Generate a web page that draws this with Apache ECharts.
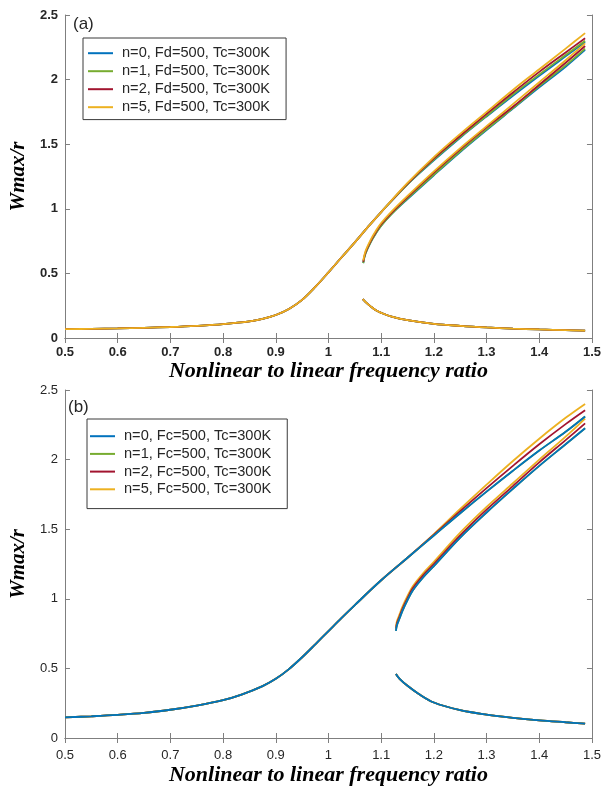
<!DOCTYPE html>
<html>
<head>
<meta charset="utf-8">
<script src="https://cdn.jsdelivr.net/npm/echarts@6/dist/echarts.min.js"></script>
<style>
  html, body { margin: 0; padding: 0; background: #ffffff; }
  #chart { width: 604px; height: 787px; }
</style>
</head>
<body>
<div id="chart"></div>
<script>
// ---- tick labels ----
const xTickLabels = ['0.5', '0.6', '0.7', '0.8', '0.9', '1', '1.1', '1.2', '1.3', '1.4', '1.5'];
const yTickLabels = ['0', '0.5', '1', '1.5', '2', '2.5'];

// ---- legend names ----
const namesA = ['n=0, Fd=500, Tc=300K', 'n=1, Fd=500, Tc=300K', 'n=2, Fd=500, Tc=300K', 'n=5, Fd=500, Tc=300K'];
const namesB = ['n=0, Fc=500, Tc=300K', 'n=1, Fc=500, Tc=300K', 'n=2, Fc=500, Tc=300K', 'n=5, Fc=500, Tc=300K'];
const colors = ['#0072BD', '#77AC30', '#A2142F', '#EDB120'];

// ================= panel (a) =================
// rising branch shared by all n (curves coincide here)
const aRiseF = [0.5, 0.55, 0.6, 0.65, 0.7, 0.75, 0.8, 0.85, 0.875, 0.9, 0.925, 0.95, 0.975, 1.0, 1.025, 1.05, 1.075, 1.1];
const aRiseW = [0.068, 0.071, 0.074, 0.079, 0.085, 0.094, 0.107, 0.128, 0.148, 0.178, 0.225, 0.295, 0.395, 0.508, 0.625, 0.74, 0.86, 0.975];
// upper branch, continued per n
const aUpperF = [1.15, 1.2, 1.25, 1.3, 1.35, 1.4, 1.45, 1.487];
const aUpperN0 = [1.19, 1.375, 1.55, 1.715, 1.875, 2.03, 2.18, 2.29];
const aUpperN1 = [1.19, 1.38, 1.555, 1.72, 1.885, 2.04, 2.19, 2.30];
const aUpperN2 = [1.195, 1.39, 1.565, 1.735, 1.90, 2.06, 2.21, 2.32];
const aUpperN5 = [1.20, 1.40, 1.58, 1.75, 1.92, 2.08, 2.24, 2.36];
// branch starting at the jump frequency
const aJumpF = [1.066, 1.07, 1.08, 1.09, 1.1, 1.12, 1.15, 1.2, 1.25, 1.3, 1.35, 1.4, 1.45, 1.487];
const aJumpN0 = [0.58, 0.65, 0.74, 0.81, 0.87, 0.96, 1.075, 1.26, 1.44, 1.61, 1.775, 1.94, 2.10, 2.23];
const aJumpN1 = [0.58, 0.65, 0.74, 0.81, 0.87, 0.96, 1.08, 1.265, 1.445, 1.615, 1.78, 1.95, 2.11, 2.24];
const aJumpN2 = [0.59, 0.66, 0.75, 0.82, 0.88, 0.97, 1.09, 1.28, 1.46, 1.63, 1.79, 1.96, 2.13, 2.26];
const aJumpN5 = [0.60, 0.67, 0.76, 0.83, 0.89, 0.98, 1.10, 1.29, 1.47, 1.64, 1.81, 1.98, 2.15, 2.28];
// low-amplitude branch after the jump (shared)
const aLowF = [1.065, 1.07, 1.08, 1.09, 1.1, 1.12, 1.15, 1.2, 1.25, 1.3, 1.35, 1.4, 1.45, 1.487];
const aLowW = [0.30, 0.28, 0.245, 0.215, 0.195, 0.165, 0.138, 0.11, 0.094, 0.082, 0.073, 0.066, 0.061, 0.057];

// ================= panel (b) =================
const bRiseF = [0.5, 0.55, 0.6, 0.65, 0.7, 0.75, 0.8, 0.835, 0.875, 0.9, 0.925, 0.95, 0.975, 1.0, 1.025, 1.05, 1.1, 1.15];
const bRiseW = [0.148, 0.156, 0.166, 0.18, 0.203, 0.233, 0.272, 0.312, 0.373, 0.425, 0.495, 0.58, 0.673, 0.768, 0.863, 0.955, 1.133, 1.295];
const bUpperF = [1.2, 1.25, 1.3, 1.35, 1.4, 1.45, 1.487];
// n=0 and n=1 coincide in this panel
const bUpperN0 = [1.455, 1.615, 1.77, 1.92, 2.065, 2.20, 2.31];
const bUpperN1 = [1.455, 1.615, 1.77, 1.92, 2.065, 2.20, 2.31];
const bUpperN2 = [1.46, 1.63, 1.795, 1.955, 2.11, 2.255, 2.355];
const bUpperN5 = [1.465, 1.645, 1.82, 1.99, 2.15, 2.30, 2.40];
const bJumpF = [1.128, 1.13, 1.135, 1.14, 1.15, 1.16, 1.18, 1.2, 1.25, 1.3, 1.35, 1.4, 1.45, 1.487];
const bJumpN0 = [0.77, 0.81, 0.86, 0.91, 0.99, 1.06, 1.155, 1.235, 1.44, 1.62, 1.79, 1.955, 2.11, 2.225];
const bJumpN1 = [0.77, 0.81, 0.86, 0.91, 0.99, 1.06, 1.155, 1.235, 1.44, 1.62, 1.79, 1.955, 2.11, 2.225];
const bJumpN2 = [0.785, 0.825, 0.875, 0.925, 1.005, 1.075, 1.17, 1.25, 1.455, 1.64, 1.81, 1.98, 2.14, 2.26];
const bJumpN5 = [0.80, 0.84, 0.89, 0.94, 1.02, 1.09, 1.185, 1.265, 1.475, 1.66, 1.83, 2.00, 2.165, 2.295];
const bLowF = [1.128, 1.135, 1.15, 1.17, 1.2, 1.25, 1.3, 1.35, 1.4, 1.45, 1.487];
const bLowW = [0.46, 0.425, 0.375, 0.32, 0.255, 0.20, 0.168, 0.145, 0.127, 0.113, 0.103];

// ---- helpers ----
function zip(fs, ws) { return fs.map((f, i) => [f, ws[i]]); }
function join(f1, w1, f2, w2) { return zip(f1, w1).concat(zip(f2, w2)); }

const AXIS_GREY = '#7f7f7f';
const TEXT = '#262626';
const SANS = 'Liberation Sans, Arial, Helvetica, sans-serif';
const SERIF = 'Liberation Serif, Times New Roman, serif';

function lineSeries(name, color, data, xi, yi) {
  return {
    type: 'line', name: name, data: data,
    xAxisIndex: xi, yAxisIndex: yi,
    symbol: 'none', smooth: 0.35,
    lineStyle: { color: color, width: 1.8 },
    itemStyle: { color: color },
    emphasis: { disabled: true },
    silent: true
  };
}

// panel (a): n=0 first, n=5 last (drawn on top)
const aUpperSets = [aUpperN0, aUpperN1, aUpperN2, aUpperN5];
const aJumpSets = [aJumpN0, aJumpN1, aJumpN2, aJumpN5];
const seriesA = [];
[0, 1, 2, 3].forEach(k => {
  seriesA.push(lineSeries(namesA[k], colors[k], join(aRiseF, aRiseW, aUpperF, aUpperSets[k]), 0, 0));
  seriesA.push(lineSeries(namesA[k], colors[k], zip(aJumpF, aJumpSets[k]), 0, 0));
  seriesA.push(lineSeries(namesA[k], colors[k], zip(aLowF, aLowW), 0, 0));
});

// panel (b): n=5 first, n=0 last (drawn on top)
const bUpperSets = [bUpperN0, bUpperN1, bUpperN2, bUpperN5];
const bJumpSets = [bJumpN0, bJumpN1, bJumpN2, bJumpN5];
const seriesB = [];
[3, 2, 1, 0].forEach(k => {
  seriesB.push(lineSeries(namesB[k], colors[k], join(bRiseF, bRiseW, bUpperF, bUpperSets[k]), 2, 2));
  seriesB.push(lineSeries(namesB[k], colors[k], zip(bJumpF, bJumpSets[k]), 2, 2));
  seriesB.push(lineSeries(namesB[k], colors[k], zip(bLowF, bLowW), 2, 2));
});

function xLabel(v) { return xTickLabels[Math.round((v - 0.5) / 0.1)]; }
function yLabel(v) { return yTickLabels[Math.round(v / 0.5)]; }

function mainX(grid, bold, margin, gap) {
  return {
    type: 'value', gridIndex: grid, position: 'bottom',
    min: 0.5, max: 1.5, interval: 0.1,
    axisLine: { show: true, lineStyle: { color: AXIS_GREY, width: 1 } },
    axisTick: { show: true, inside: true, length: 5, lineStyle: { color: AXIS_GREY } },
    splitLine: { show: false },
    axisLabel: { formatter: xLabel, color: TEXT, fontFamily: SANS, fontSize: 13,
                 fontWeight: bold ? 'bold' : 'normal', margin: margin, showMaxLabel: true, showMinLabel: true },
    name: 'Nonlinear to linear frequency ratio', nameLocation: 'middle', nameGap: gap,
    nameTextStyle: { fontFamily: SERIF, fontStyle: 'italic', fontWeight: 'bold', fontSize: 22, color: '#000' }
  };
}
function boxX(grid) {
  return {
    type: 'value', gridIndex: grid, position: 'top',
    min: 0.5, max: 1.5, interval: 0.1,
    axisLine: { show: true, lineStyle: { color: AXIS_GREY, width: 1 } },
    axisTick: { show: true, inside: true, length: 5, lineStyle: { color: AXIS_GREY } },
    splitLine: { show: false }, axisLabel: { show: false }
  };
}
function mainY(grid, bold) {
  return {
    type: 'value', gridIndex: grid, position: 'left',
    min: 0, max: 2.5, interval: 0.5,
    axisLine: { show: true, lineStyle: { color: AXIS_GREY, width: 1 } },
    axisTick: { show: true, inside: true, length: 5, lineStyle: { color: AXIS_GREY } },
    splitLine: { show: false },
    axisLabel: { formatter: yLabel, color: TEXT, fontFamily: SANS, fontSize: 13,
                 fontWeight: bold ? 'bold' : 'normal', margin: 7 },
    name: 'Wmax/r', nameLocation: 'middle', nameGap: 34,
    nameTextStyle: { fontFamily: SERIF, fontStyle: 'italic', fontWeight: 'bold', fontSize: 21, color: '#000' }
  };
}
function boxY(grid) {
  return {
    type: 'value', gridIndex: grid, position: 'right',
    min: 0, max: 2.5, interval: 0.5,
    axisLine: { show: true, lineStyle: { color: AXIS_GREY, width: 1 } },
    axisTick: { show: true, inside: true, length: 5, lineStyle: { color: AXIS_GREY } },
    splitLine: { show: false }, axisLabel: { show: false }
  };
}

// legend with plain line swatches (thin rect icon)
function legendBox(names, left, top, padding, gap) {
  return {
    data: names.map(n => ({ name: n, icon: 'rect' })),
    orient: 'vertical', left: left, top: top,
    padding: padding, itemGap: gap, itemWidth: 25, itemHeight: 2,
    backgroundColor: '#ffffff', borderColor: '#3a3a3a', borderWidth: 1, borderRadius: 0,
    selectedMode: false,
    textStyle: { fontFamily: SANS, fontSize: 14.6, color: TEXT, padding: [0, 0, 0, 4] }
  };
}

const chart = echarts.init(document.getElementById('chart'), null, { renderer: 'canvas' });
chart.setOption({
  animation: false,
  backgroundColor: '#ffffff',
  title: [
    { text: '(a)', left: 73, top: 16, padding: 0, textStyle: { fontFamily: SANS, fontSize: 17, fontWeight: 'normal', color: TEXT } },
    { text: '(b)', left: 68, top: 399, padding: 0, textStyle: { fontFamily: SANS, fontSize: 17, fontWeight: 'normal', color: TEXT } }
  ],
  legend: [
    legendBox(namesA, 83, 38, [7.7, 16, 4.9, 5], 3.0),
    legendBox(namesB, 87, 419, [9.7, 16, 11.8, 3], 2.7)
  ],
  grid: [
    { left: 60, top: 15, width: 536, height: 323 },
    { left: 60, top: 390, width: 537, height: 350 }
  ],
  xAxis: [mainX(0, true, 8, 21), boxX(0), mainX(1, false, 11, 26), boxX(1)],
  yAxis: [mainY(0, true), boxY(0), mainY(1, false), boxY(1)],
  series: seriesA.concat(seriesB)
});
</script>
</body>
</html>
